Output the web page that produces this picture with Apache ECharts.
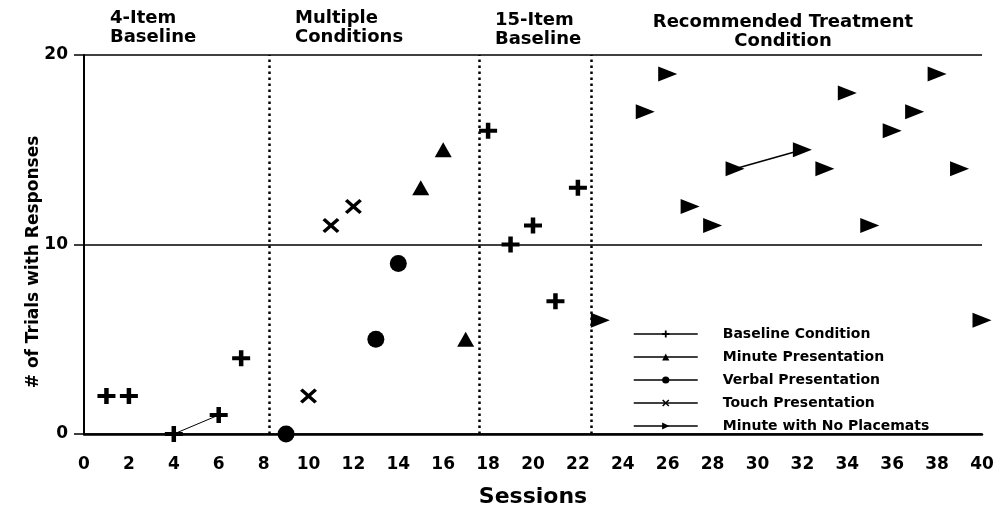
<!DOCTYPE html>
<html><head><meta charset="utf-8">
<script src="https://cdn.jsdelivr.net/npm/echarts@6/dist/echarts.min.js"></script>
<style>html,body{margin:0;padding:0;background:#fff}#c{width:994px;height:509px}</style>
</head><body><div id="c"></div>
<script>
const seriesNames = ['Baseline Condition','Minute Presentation','Verbal Presentation','Touch Presentation','Minute with No Placemats'];
const baselinePts = [[1,2],[2,2],[4,0],[6,1],[7,4],[18,16],[19,10],[20,11],[21,7],[22,13]];
const minutePts = [[15,13],[16,15],[17,5]];
const verbalPts = [[9,0],[13,5],[14,9]];
const touchPts = [[10,2],[11,11],[12,12]];
const noPlacematPts = [[23,6],[25,17],[26,19],[27,12],[28,11],[29,14],[32,15],[33,14],[34,18],[35,11],[36,16],[37,17],[38,19],[39,14],[40,6]];
const baselineLinks = [[4,6]];
const noPlacematLinks = [[29,32]];
const phaseBreaks = [8.25, 17.6, 22.6];
const phaseLabels = ['4-Item\nBaseline','Multiple\nConditions','15-Item\nBaseline','Recommended Treatment\nCondition'];
const xAxisTitle = 'Sessions';
const yAxisTitle = '# of Trials with Responses';

const F = 'DejaVu Sans';
const BLACK = '#000';
const SYM_PLUS = 'path://M3,0H5V3H8V5H5V8H3V5H0V3H3Z';
const SYM_X = 'path://M0,1.5L1.5,0L5,3.5L8.5,0L10,1.5L6.5,5L10,8.5L8.5,10L5,6.5L1.5,10L0,8.5L3.5,5Z';
const SYM_RIGHT = 'path://M0,0L10,5L0,10Z';

function linkData(pts, links){
  const out = [];
  links.forEach((pair, i) => {
    if (i > 0) out.push([pair[0], '-']);
    pair.forEach(s => { const p = pts.find(q => q[0] === s); if (p) out.push(p); });
  });
  return out;
}

function mk(name, data, symbol, size){
  return {name, type:'line', data, symbol, symbolSize:size, z:3,
    lineStyle:{width:0, color:BLACK}, itemStyle:{color:BLACK},
    silent:true, animation:false};
}

const series = [
  Object.assign(mk(seriesNames[0], baselinePts, SYM_PLUS, [18,16]), {
    markLine:{silent:true, symbol:'none', label:{show:false}, animation:false,
      lineStyle:{color:BLACK, width:2.5, type:[2.5,3.5]},
      data: phaseBreaks.map(x => ({xAxis:x}))}
  }),
  mk(seriesNames[1], minutePts, 'triangle', [17,15]),
  mk(seriesNames[2], verbalPts, 'circle', 17),
  mk(seriesNames[3], touchPts, SYM_X, [17,15]),
  mk(seriesNames[4], noPlacematPts, SYM_RIGHT, [19,15]),
  {type:'line', data:linkData(baselinePts, baselineLinks), symbol:'none', silent:true, animation:false,
    lineStyle:{color:BLACK, width:1}, z:2},
  {type:'line', data:linkData(noPlacematPts, noPlacematLinks), symbol:'none', silent:true, animation:false,
    lineStyle:{color:BLACK, width:1.5}, z:2}
];

const titleStyle = {fontFamily:F, fontWeight:'bold', fontSize:18, lineHeight:19, fill:BLACK};
const chart = echarts.init(document.getElementById('c'), null, {renderer:'canvas'});
chart.setOption({
  backgroundColor:'#fff',
  animation:false,
  grid:{left:84, right:12, top:55, bottom:75, containLabel:false, outerBoundsMode:'none'},
  xAxis:{type:'value', min:0, max:40, interval:2,
    name:xAxisTitle, nameLocation:'middle', nameGap:52,
    nameTextStyle:{fontFamily:F, fontWeight:'bold', fontSize:22, color:BLACK},
    axisLine:{show:true, onZero:false, lineStyle:{color:BLACK, width:2.5}},
    axisTick:{show:false}, splitLine:{show:false},
    axisLabel:{margin:22, fontFamily:F, fontWeight:'bold', fontSize:17, color:BLACK}},
  yAxis:{type:'value', min:0, max:20, interval:10,
    axisLine:{show:true, lineStyle:{color:BLACK, width:2}},
    axisTick:{show:true, length:10, lineStyle:{color:BLACK, width:1.5}},
    splitLine:{show:true, lineStyle:{color:BLACK, width:1.5}},
    axisLabel:{margin:16, fontFamily:F, fontWeight:'bold', fontSize:17, color:BLACK}},
  legend:{orient:'vertical', left:628, top:322, itemWidth:64, itemHeight:9, itemGap:9,
    data:seriesNames, selectedMode:false,
    textStyle:{fontFamily:F, fontWeight:'bold', fontSize:14, lineHeight:14, color:BLACK, padding:[0,0,0,20]},
    lineStyle:{width:1.5, color:BLACK, type:'solid'},
    itemStyle:{color:BLACK}},
  graphic:[
    {type:'text', x:110, y:9, style:Object.assign({text:phaseLabels[0]}, titleStyle)},
    {type:'text', x:295, y:9, style:Object.assign({text:phaseLabels[1]}, titleStyle)},
    {type:'text', x:495, y:11, style:Object.assign({text:phaseLabels[2]}, titleStyle)},
    {type:'text', x:783, y:13, style:Object.assign({text:phaseLabels[3], align:'center'}, titleStyle)},
    {type:'text', x:34, y:262, rotation:Math.PI/2,
      style:{text:yAxisTitle, align:'center', verticalAlign:'middle', fontFamily:F, fontWeight:'bold', fontSize:17, fill:BLACK}}
  ],
  series
});
</script></body></html>
